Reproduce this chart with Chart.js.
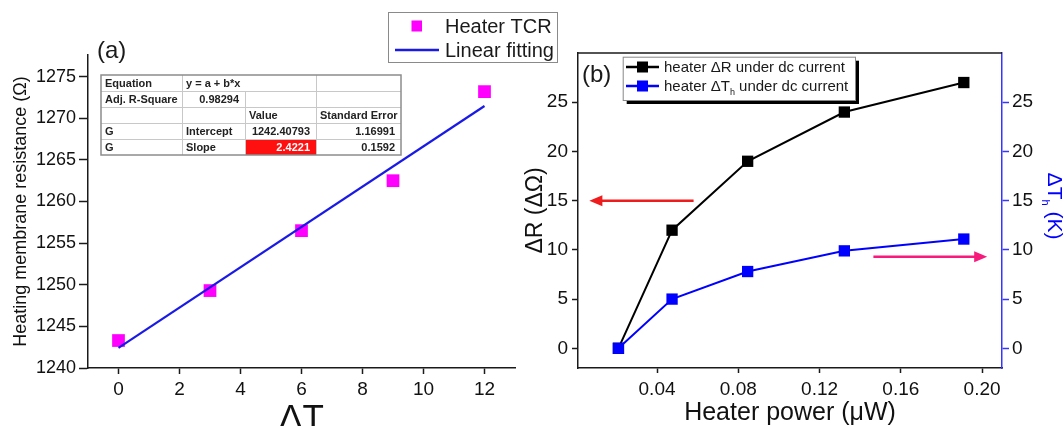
<!DOCTYPE html>
<html lang="en">
<head>
<meta charset="UTF-8">
<title>Heater TCR and dc heating</title>
<script src="https://cdn.jsdelivr.net/npm/chart.js"></script>
<style>
  html, body { margin: 0; padding: 0; background: #fff; overflow: hidden; }
  .figure { position: relative; width: 1064px; height: 426px; overflow: hidden; }
  #chartA { position: absolute; left: 0; top: 0; }
  #chartB { position: absolute; left: 500px; top: 0; }
</style>
</head>
<body>
<div class="figure">
  <canvas id="chartA" width="570" height="470"></canvas>
  <canvas id="chartB" width="564" height="470"></canvas>
</div>
<script>
// (a) heater TCR
const tcrDeltaT = [0, 3, 6, 9, 12];
const tcrResistance = [1243.3, 1249.3, 1256.5, 1262.5, 1273.2];
const fitDeltaT = [0, 12];
const fitResistance = [1242.41, 1271.47];
const resistanceTicks = [1240, 1245, 1250, 1255, 1260, 1265, 1270, 1275];
const deltaTTicks = [0, 2, 4, 6, 8, 10, 12];
const fitTable = [
  ['Equation', 'y = a + b*x', '', ''],
  ['Adj. R-Square', '0.98294', '', ''],
  ['', '', 'Value', 'Standard Error'],
  ['G', 'Intercept', '1242.40793', '1.16991'],
  ['G', 'Slope', '2.4221', '0.1592']
];

// (b) dc current heating
const heaterPower = [0.021, 0.0474, 0.0846, 0.1322, 0.191];
const deltaR = [0, 12, 19, 24, 27];
const deltaTh = [0, 5.0, 7.8, 9.9, 11.1];
const powerTicks = [0.04, 0.08, 0.12, 0.16, 0.20];
const sideTicks = [0, 5, 10, 15, 20, 25];
// arrows pointing at the axis each curve belongs to (data units)
const arrowLeft = { axis: 'y', y: 15, from: 0.058, to: 0.0067, color: '#ee1c1c' };
const arrowRight = { axis: 'y1', y: 9.3, from: 0.1465, to: 0.2025, color: '#f7197c' };

const FONT = "Arial, 'Liberation Sans', Helvetica, sans-serif";
const INK = '#1a1a1a';
const BLUE = '#0000ff';

Chart.defaults.font.family = FONT;
Chart.defaults.color = '#111';

function fixedTicks(list) {
  return scale => { scale.ticks = list.map(v => ({ value: v })); };
}

function pts(xs, ys) {
  return xs.map((x, i) => ({ x: x, y: ys[i] }));
}

function drawArrow(ctx, x1, y, x2, color) {
  const dir = x2 > x1 ? 1 : -1;
  ctx.strokeStyle = color;
  ctx.fillStyle = color;
  ctx.lineWidth = 2.5;
  ctx.beginPath();
  ctx.moveTo(x1, y);
  ctx.lineTo(x2 - dir * 9, y);
  ctx.stroke();
  ctx.beginPath();
  ctx.moveTo(x2, y);
  ctx.lineTo(x2 - dir * 13, y - 5.5);
  ctx.lineTo(x2 - dir * 13, y + 5.5);
  ctx.closePath();
  ctx.fill();
}

const panelA = {
  id: 'panelA',
  afterDraw(chart) {
    const ctx = chart.ctx;
    ctx.save();

    // fit result table
    const cols = [101, 182, 245, 316, 401];
    const top = 75, rowH = 16;
    const bottom = top + rowH * fitTable.length;
    ctx.fillStyle = '#fff';
    ctx.fillRect(cols[0], top, cols[4] - cols[0], bottom - top);
    ctx.fillStyle = '#ff1010';
    ctx.fillRect(cols[2], top + rowH * 4, cols[3] - cols[2], rowH);
    ctx.strokeStyle = '#c8c8c8';
    ctx.lineWidth = 1;
    for (let r = 1; r < fitTable.length; r++) {
      ctx.beginPath();
      ctx.moveTo(cols[0], top + r * rowH + 0.5);
      ctx.lineTo(cols[4], top + r * rowH + 0.5);
      ctx.stroke();
    }
    for (let c = 1; c < 4; c++) {
      const y0 = c === 2 ? top + rowH : top;
      ctx.beginPath();
      ctx.moveTo(cols[c] + 0.5, y0);
      ctx.lineTo(cols[c] + 0.5, bottom);
      ctx.stroke();
    }
    ctx.strokeStyle = '#8c8c8c';
    ctx.lineWidth = 1.5;
    ctx.strokeRect(cols[0], top, cols[4] - cols[0], bottom - top);

    ctx.font = 'bold 11px ' + FONT;
    ctx.textBaseline = 'middle';
    fitTable.forEach((row, r) => {
      row.forEach((txt, c) => {
        if (!txt) return;
        const y = top + r * rowH + rowH / 2 + 1;
        const numeric = !isNaN(parseFloat(txt)) && isFinite(txt);
        ctx.fillStyle = (r === 4 && c === 2) ? '#fff' : '#222';
        if (numeric) {
          ctx.textAlign = 'right';
          ctx.fillText(txt, cols[c + 1] - 6, y);
        } else {
          ctx.textAlign = 'left';
          ctx.fillText(txt, cols[c] + 4, y);
        }
      });
    });

    // legend
    const ds = chart.data.datasets;
    ctx.fillStyle = '#fff';
    ctx.fillRect(388, 12, 169, 50);
    ctx.strokeStyle = '#8a8a8a';
    ctx.lineWidth = 1;
    ctx.strokeRect(388.5, 12.5, 169, 50);
    ctx.fillStyle = ds[0].backgroundColor;
    ctx.fillRect(411.5, 20.5, 10.5, 11);
    ctx.strokeStyle = ds[1].borderColor;
    ctx.lineWidth = 2.5;
    ctx.beginPath();
    ctx.moveTo(395, 50);
    ctx.lineTo(439, 50);
    ctx.stroke();
    ctx.font = '20px ' + FONT;
    ctx.fillStyle = INK;
    ctx.textAlign = 'left';
    ctx.textBaseline = 'middle';
    ctx.fillText(ds[0].label, 445, 27);
    ctx.fillText(ds[1].label, 445, 51);

    // panel tag
    ctx.font = '24px ' + FONT;
    ctx.fillText('(a)', 97, 51);
    ctx.restore();
  }
};

const panelB = {
  id: 'panelB',
  afterDraw(chart) {
    const ctx = chart.ctx;
    const a = chart.chartArea;
    const sx = chart.scales.x;
    ctx.save();

    // top frame line
    ctx.strokeStyle = INK;
    ctx.lineWidth = 1.5;
    ctx.beginPath();
    ctx.moveTo(a.left, a.top);
    ctx.lineTo(a.right, a.top);
    ctx.stroke();

    [arrowLeft, arrowRight].forEach(ar => {
      const y = chart.scales[ar.axis].getPixelForValue(ar.y);
      drawArrow(ctx, sx.getPixelForValue(ar.from), y, sx.getPixelForValue(ar.to), ar.color);
    });

    // legend with drop shadow
    const bx = 122.7, by = 56.7, bw = 232.3, bh = 43.3;
    ctx.fillStyle = '#000';
    ctx.fillRect(bx + 4, by + 4, bw, bh);
    ctx.fillStyle = '#fff';
    ctx.fillRect(bx, by, bw, bh);
    ctx.strokeStyle = '#888';
    ctx.lineWidth = 1;
    ctx.strokeRect(bx + 0.5, by + 0.5, bw, bh);
    const ds = chart.data.datasets;
    const rowsY = [67, 86];
    ds.forEach((d, i) => {
      ctx.strokeStyle = d.borderColor;
      ctx.lineWidth = 2.5;
      ctx.beginPath();
      ctx.moveTo(126, rowsY[i]);
      ctx.lineTo(159, rowsY[i]);
      ctx.stroke();
      ctx.fillStyle = d.backgroundColor;
      ctx.fillRect(137, rowsY[i] - 5.5, 11, 11);
    });
    ctx.fillStyle = INK;
    ctx.textAlign = 'left';
    ctx.textBaseline = 'alphabetic';
    const main = '15px ' + FONT, sub = '9px ' + FONT;
    ctx.font = main;
    ctx.fillText('heater \u0394R under dc current', 164, rowsY[0] + 5);
    let x = 164;
    const y2 = rowsY[1] + 5;
    ctx.fillText('heater \u0394T', x, y2);
    x += ctx.measureText('heater \u0394T').width;
    ctx.font = sub;
    ctx.fillText('h', x, y2 + 4);
    x += ctx.measureText('h').width;
    ctx.font = main;
    ctx.fillText(' under dc current', x, y2);

    // right axis title with subscript
    ctx.translate(548, 206);
    ctx.rotate(Math.PI / 2);
    ctx.fillStyle = BLUE;
    const tMain = '21px ' + FONT, tSub = '11px ' + FONT;
    ctx.font = tMain;
    const w1 = ctx.measureText('\u0394T').width;
    const w3 = ctx.measureText(' (K)').width;
    ctx.font = tSub;
    const w2 = ctx.measureText('h').width;
    let tx = -(w1 + w2 + w3) / 2;
    ctx.font = tMain;
    ctx.fillText('\u0394T', tx, 0);
    tx += w1;
    ctx.font = tSub;
    ctx.fillText('h', tx, 6);
    tx += w2;
    ctx.font = tMain;
    ctx.fillText(' (K)', tx, 0);
    ctx.setTransform(1, 0, 0, 1, 0, 0);

    // panel tag
    ctx.fillStyle = INK;
    ctx.font = '24px ' + FONT;
    ctx.textBaseline = 'middle';
    ctx.fillText('(b)', 82, 75);
    ctx.restore();
  }
};

new Chart(document.getElementById('chartA'), {
  type: 'scatter',
  data: {
    datasets: [{
      label: 'Heater TCR',
      data: pts(tcrDeltaT, tcrResistance),
      backgroundColor: '#ff00ff',
      borderWidth: 0,
      pointStyle: 'rect',
      pointRadius: 9,
      order: 1
    }, {
      label: 'Linear fitting',
      type: 'line',
      data: pts(fitDeltaT, fitResistance),
      borderColor: '#1a1ae6',
      borderWidth: 2.2,
      pointRadius: 0,
      fill: false,
      order: 0
    }]
  },
  options: {
    responsive: false,
    animation: false,
    events: [],
    layout: { padding: { top: 55, right: 55, bottom: 0, left: 0 }, autoPadding: false },
    plugins: { legend: { display: false }, tooltip: { enabled: false } },
    scales: {
      x: {
        type: 'linear', min: -1, max: 13,
        afterBuildTicks: fixedTicks(deltaTTicks),
        afterFit: s => { s.height = 102; },
        grid: { drawOnChartArea: false, tickLength: 6, tickColor: INK, tickWidth: 1.5 },
        border: { display: true, color: INK, width: 1.5 },
        ticks: { font: { size: 19 }, padding: 4, color: '#111', callback: v => String(v) },
        title: { display: true, text: '\u0394T', color: '#111', font: { size: 35, lineHeight: 1 }, padding: { top: 0, bottom: 33 } }
      },
      y: {
        min: 1240, max: 1277.6,
        afterBuildTicks: fixedTicks(resistanceTicks),
        afterFit: s => { s.width = 88; },
        grid: { drawOnChartArea: false, tickLength: 9, tickColor: INK, tickWidth: 1.5 },
        border: { display: true, color: INK, width: 1.5 },
        ticks: { font: { size: 18 }, padding: 3, color: '#111', callback: v => String(v) },
        title: { display: true, text: 'Heating membrane resistance (\u03A9)', color: '#111', font: { size: 18, lineHeight: 1 }, padding: { top: 12, bottom: 0 } }
      }
    }
  },
  plugins: [panelA]
});

new Chart(document.getElementById('chartB'), {
  type: 'line',
  data: {
    datasets: [{
      label: 'heater \u0394R under dc current',
      data: pts(heaterPower, deltaR),
      yAxisID: 'y',
      borderColor: '#000',
      backgroundColor: '#000',
      borderWidth: 2,
      pointStyle: 'rect',
      pointRadius: 8,
      pointBorderWidth: 0,
      fill: false,
      order: 1
    }, {
      label: 'heater \u0394Th under dc current',
      data: pts(heaterPower, deltaTh),
      yAxisID: 'y1',
      borderColor: BLUE,
      backgroundColor: BLUE,
      borderWidth: 2,
      pointStyle: 'rect',
      pointRadius: 8,
      pointBorderWidth: 0,
      fill: false,
      order: 0
    }]
  },
  options: {
    responsive: false,
    animation: false,
    events: [],
    layout: { padding: { top: 53, right: 0, bottom: 0, left: 0 }, autoPadding: false },
    plugins: { legend: { display: false }, tooltip: { enabled: false } },
    scales: {
      x: {
        type: 'linear', min: 0.0011, max: 0.2098,
        afterBuildTicks: fixedTicks(powerTicks),
        afterFit: s => { s.height = 102; },
        grid: { drawOnChartArea: false, tickLength: 5, tickColor: INK, tickWidth: 1.5 },
        border: { display: true, color: INK, width: 1.5 },
        ticks: { font: { size: 19 }, padding: 5, color: '#111', callback: v => v.toFixed(2) },
        title: { display: true, text: 'Heater power (\u03BCW)', color: '#111', font: { size: 25, lineHeight: 1 }, padding: { top: 0, bottom: 44 } }
      },
      y: {
        position: 'left', min: -2, max: 30,
        afterBuildTicks: fixedTicks(sideTicks),
        afterFit: s => { s.width = 78; },
        grid: { drawOnChartArea: false, tickLength: 6, tickColor: INK, tickWidth: 1.5 },
        border: { display: true, color: INK, width: 1.5 },
        ticks: { font: { size: 19 }, padding: 4, color: '#111', callback: v => String(v) },
        title: { display: true, text: '\u0394R (\u0394\u03A9)', color: '#111', font: { size: 23, lineHeight: 1 }, padding: { top: 24, bottom: 0 } }
      },
      y1: {
        position: 'right', min: -2, max: 30,
        afterBuildTicks: fixedTicks(sideTicks),
        afterFit: s => { s.width = 62; },
        grid: { drawOnChartArea: false, tickLength: 7, tickColor: '#3535ff', tickWidth: 1.5 },
        border: { display: true, color: '#3535ff', width: 1.5 },
        ticks: { font: { size: 19 }, padding: 3, color: '#111', callback: v => String(v) }
      }
    }
  },
  plugins: [panelB]
});
</script>
</body>
</html>
